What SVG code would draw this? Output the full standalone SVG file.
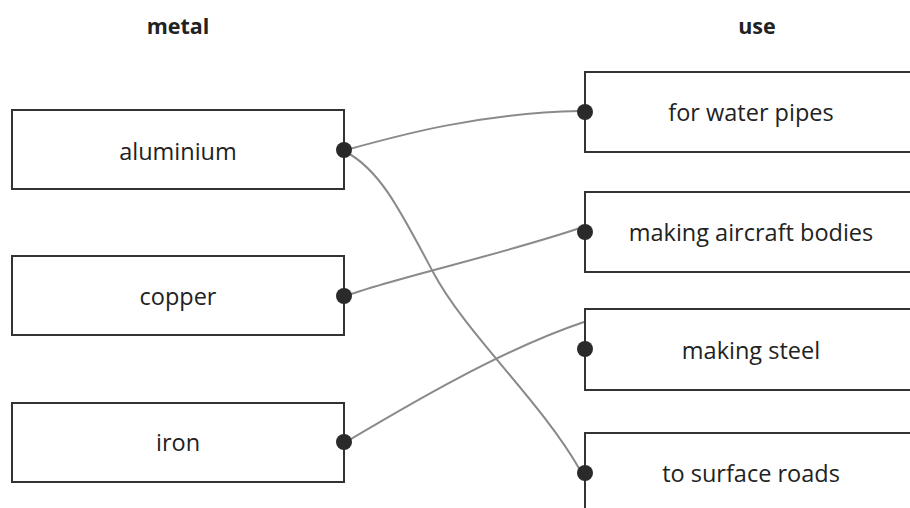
<svg xmlns="http://www.w3.org/2000/svg" width="910" height="508" viewBox="0 0 910 508">
<style>
.box{fill:#fff;stroke:#333;stroke-width:2}
.lbl{font-family:"Open Sans","Noto Sans",sans-serif;font-size:23.5px;fill:#222;text-anchor:middle}
.hdr{font-family:"Open Sans","Noto Sans",sans-serif;font-size:21.5px;font-weight:bold;fill:#222;text-anchor:middle}
.dot{fill:#2a2a2a}
.con{fill:none;stroke:#8a8a8a;stroke-width:2;stroke-linecap:round}
</style>
<rect width="910" height="508" fill="#fff"/>
<text class="hdr" x="178" y="34">metal</text>
<text class="hdr" x="757" y="34">use</text>
<g id="connectors">
<path class="con" d="M346,150 C400,135 480,113 580,111"/>
<path class="con" d="M346,152 C380,170 400,210 433,272 S540,400 580,470"/>
<path class="con" d="M346,296 C380,282 500,255 580,228"/>
<path class="con" d="M346,442 C400,410 500,350 584,322"/>
</g>
<g id="aluminium"><rect class="box" x="12" y="110" width="332" height="79"/><text class="lbl" x="178" y="160">aluminium</text><circle class="dot" cx="344" cy="150" r="8"/></g>
<g id="copper"><rect class="box" x="12" y="256" width="332" height="79"/><text class="lbl" x="178" y="305">copper</text><circle class="dot" cx="344" cy="296" r="8"/></g>
<g id="iron"><rect class="box" x="12" y="403" width="332" height="79"/><text class="lbl" x="178" y="451">iron</text><circle class="dot" cx="344" cy="442" r="8"/></g>
<g id="water-pipes"><rect class="box" x="585" y="72" width="332" height="80"/><text class="lbl" x="751" y="121">for water pipes</text><circle class="dot" cx="585" cy="112" r="8"/></g>
<g id="aircraft"><rect class="box" x="585" y="192" width="332" height="80"/><text class="lbl" x="751" y="241">making aircraft bodies</text><circle class="dot" cx="585" cy="232" r="8"/></g>
<g id="steel"><rect class="box" x="585" y="309" width="332" height="81"/><text class="lbl" x="751" y="359">making steel</text><circle class="dot" cx="585" cy="349" r="8"/></g>
<g id="roads"><rect class="box" x="585" y="433" width="332" height="90"/><text class="lbl" x="751" y="482">to surface roads</text><circle class="dot" cx="585" cy="473" r="8"/></g>
</svg>
